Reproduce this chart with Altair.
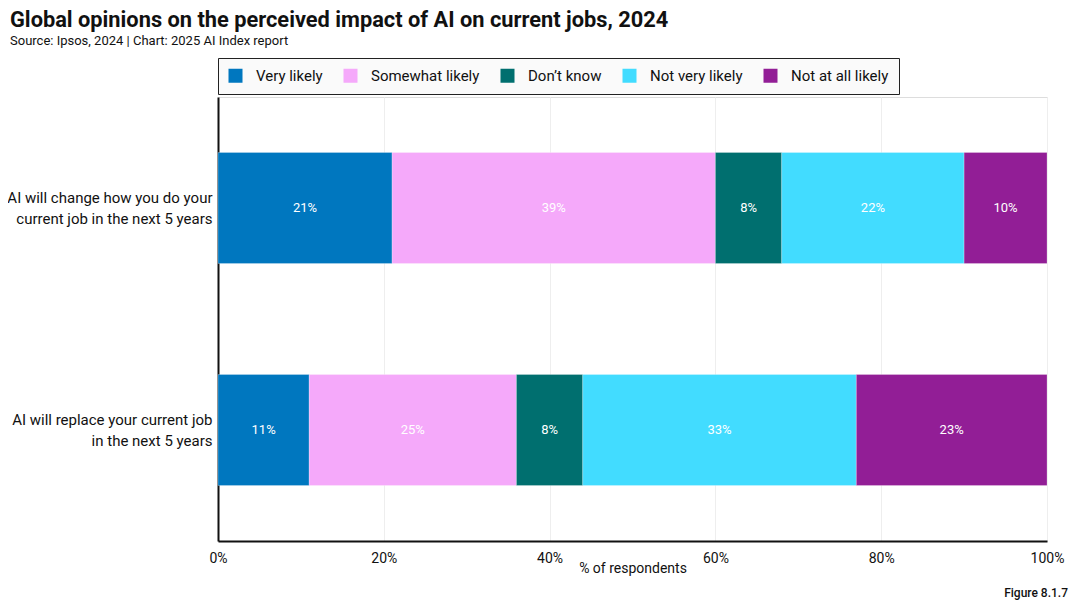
import altair as alt
import pandas as pd

# ---- data ----
questions = [
    "AI will change how you do your|current job in the next 5 years",
    "AI will replace your current job|in the next 5 years",
]
categories = ["Very likely", "Somewhat likely", "Don’t know", "Not very likely", "Not at all likely"]
colors = ["#0077BF", "#F5A9FA", "#006F6F", "#42DCFF", "#921E96"]
change_vals = [21, 39, 8, 22, 10]
replace_vals = [11, 25, 8, 33, 23]
x_ticks = [0, 20, 40, 60, 80, 100]

title_text = "Global opinions on the perceived impact of AI on current jobs, 2024"
subtitle_text = "Source: Ipsos, 2024 | Chart: 2025 AI Index report"
figure_text = "Figure 8.1.7"

rows = []
for q, vals in zip(questions, [change_vals, replace_vals]):
    for i, (c, v) in enumerate(zip(categories, vals)):
        rows.append({"question": q, "category": c, "value": v, "order": i, "label": f"{v}%"})
df = pd.DataFrame(rows)

FONT = "Roboto"
W, H = 829, 444

base = alt.Chart(df).transform_stack(
    stack="value", groupby=["question"], sort=[alt.SortField("order")], as_=["x0", "x1"]
).transform_calculate(mid="(datum.x0 + datum.x1) / 2")

y_enc = alt.Y(
    "question:N",
    sort=questions,
    title=None,
    scale=alt.Scale(paddingInner=0.5, paddingOuter=0.25),
    axis=alt.Axis(
        labelExpr="split(datum.label, '|')",
        labelFontSize=15,
        labelLineHeight=21,
        labelLimit=400,
        labelOffset=-10,
        labelColor="#111",
        labelPadding=6,
        ticks=False,
        domainColor="#111",
        domainWidth=2,
        grid=False,
        labelFont=FONT,
    ),
)

bars = base.mark_bar(stroke="white", strokeWidth=0.4, strokeOpacity=0.6).encode(
    x=alt.X(
        "x0:Q",
        scale=alt.Scale(domain=[0, 100], nice=False),
        title="% of respondents",
        axis=alt.Axis(
            values=x_ticks,
            labelExpr="datum.value + '%'",
            labelFontSize=14,
            labelColor="#111",
            labelPadding=10,
            labelFlush=False,
            labelFont=FONT,
            ticks=False,
            domainColor="#111",
            domainWidth=2,
            grid=True,
            gridColor="#eeeeee",
            titleFontSize=14,
            titleFontWeight="normal",
            titleColor="#111",
            titleFont=FONT,
            titleY=20,
            titleBaseline="top",
        ),
    ),
    x2="x1:Q",
    y=y_enc,
    color=alt.Color(
        "category:N",
        sort=categories,
        scale=alt.Scale(domain=categories, range=colors),
        title=None,
        legend=alt.Legend(
            orient="none",
            legendX=0,
            legendY=-39,
            direction="horizontal",
            symbolType="square",
            symbolSize=196,
            symbolStrokeWidth=0,
            symbolOpacity=1,
            labelFontSize=15,
            labelColor="#111",
            labelFont=FONT,
            labelOffset=13,
            columnPadding=20,
            padding=10,
            strokeColor="#222",
            fillColor="#fafafa",
        ),
    ),
    order=alt.Order("order:Q"),
)

labels = base.mark_text(color="white", fontSize=13, font=FONT).encode(
    x=alt.X("mid:Q"),
    y=alt.Y("question:N", sort=questions),
    text="label:N",
)

title = alt.Chart(pd.DataFrame({"t": [title_text]})).mark_text(
    align="left", baseline="alphabetic", fontSize=21.8, fontWeight="bold", font=FONT, color="#111"
).encode(text="t:N", x=alt.value(-208), y=alt.value(-70))

subtitle = alt.Chart(pd.DataFrame({"t": [subtitle_text]})).mark_text(
    align="left", baseline="alphabetic", fontSize=13, font=FONT, color="#111"
).encode(text="t:N", x=alt.value(-208), y=alt.value(-52))

figure = alt.Chart(pd.DataFrame({"t": [figure_text]})).mark_text(
    align="right", baseline="alphabetic", fontSize=12, fontWeight=500, font=FONT, color="#111"
).encode(text="t:N", x=alt.value(850), y=alt.value(500))

chart = alt.layer(bars, labels, title, subtitle, figure).properties(
    width=W,
    height=H,
    autosize=alt.AutoSizeParams(type="none"),
    padding={"left": 210, "top": 89, "right": 25, "bottom": 60},
).configure_view(stroke=None).configure(background="white")

chart.save("out.html", embed_options={"renderer": "svg", "actions": False})
